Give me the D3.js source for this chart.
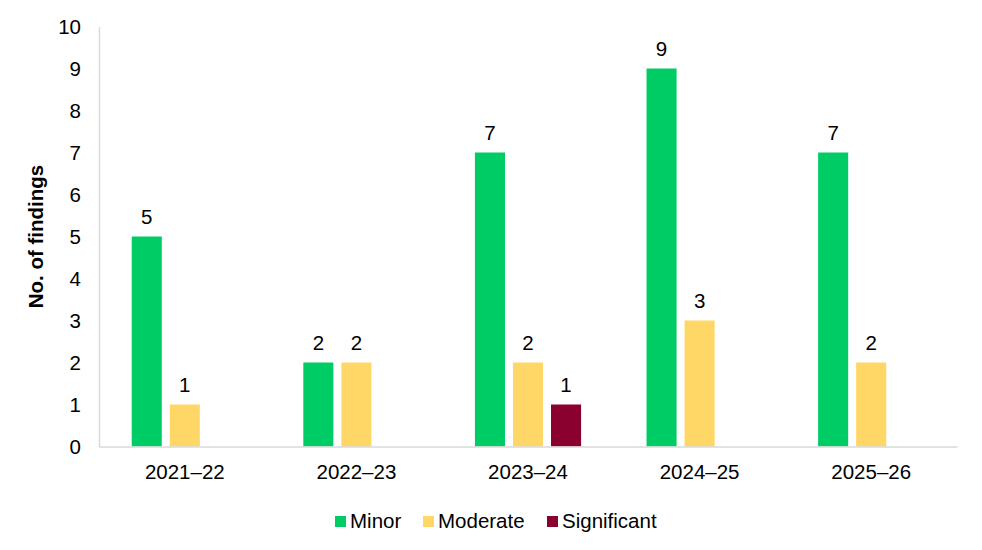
<!DOCTYPE html>
<html lang="en">
<head>
    <meta charset="UTF-8">
    <title>No. of findings by year</title>
    <script src="https://cdnjs.cloudflare.com/ajax/libs/d3/7.8.5/d3.min.js"></script>
    <style>
        body {
            margin: 0;
            background: #fff;
            font-family: Arial, "Liberation Sans", sans-serif;
        }
        .tick text, .value-label, .legend text {
            font-size: 20.5px;
            fill: #000;
        }
        .axis-title {
            font-size: 20.5px;
            font-weight: bold;
        }
    </style>
</head>
<body>
    <div id="chart"></div>
    <script>
        // chart data
        const years = ["2021–22", "2022–23", "2023–24", "2024–25", "2025–26"];
        const seriesNames = ["Minor", "Moderate", "Significant"];
        const minor = [5, 2, 7, 9, 7];
        const moderate = [1, 2, 2, 3, 2];
        const significant = [0, 0, 1, 0, 0];
        const yTicks = [0, 1, 2, 3, 4, 5, 6, 7, 8, 9, 10];
        const colors = ["#00CC66", "#FFD766", "#8A002E"];

        const seriesValues = [minor, moderate, significant];

        const width = 982, height = 550;
        const margin = {top: 26.5, right: 25, bottom: 103.5, left: 99};
        const innerW = width - margin.left - margin.right;
        const innerH = height - margin.top - margin.bottom;

        const svg = d3.select("#chart")
            .append("svg")
            .attr("width", width)
            .attr("height", height);

        const g = svg.append("g")
            .attr("transform", `translate(${margin.left},${margin.top})`);

        const x0 = d3.scaleBand()
            .domain(years)
            .range([0, innerW])
            .padding(0);

        const x1 = d3.scaleBand()
            .domain(seriesNames)
            .range([0, x0.bandwidth()])
            .paddingInner(0.21)
            .paddingOuter(0.86);

        const y = d3.scaleLinear()
            .domain([0, 10])
            .range([innerH, 0]);

        // bars, zero values are skipped like in the original
        const rows = years.map((yr, i) => ({
            year: yr,
            values: seriesNames.map((s, j) => ({series: s, value: seriesValues[j][i], color: colors[j]}))
                .filter(d => d.value > 0)
        }));

        const groups = g.selectAll(".group")
            .data(rows)
            .enter().append("g")
            .attr("class", "group")
            .attr("transform", d => `translate(${x0(d.year)},0)`);

        groups.selectAll("rect")
            .data(d => d.values)
            .enter().append("rect")
            .attr("x", d => x1(d.series))
            .attr("y", d => y(d.value))
            .attr("width", x1.bandwidth())
            .attr("height", d => innerH - y(d.value))
            .attr("fill", d => d.color);

        groups.selectAll(".value-label")
            .data(d => d.values)
            .enter().append("text")
            .attr("class", "value-label")
            .attr("x", d => x1(d.series) + x1.bandwidth() / 2)
            .attr("y", d => y(d.value) - 13)
            .attr("text-anchor", "middle")
            .text(d => d.value);

        // axes
        const yAxis = g.append("g")
            .call(d3.axisLeft(y).tickValues(yTicks).tickSize(0).tickPadding(18));
        yAxis.select(".domain").attr("stroke", "#d9d9d9").attr("stroke-width", 1.5);

        const xAxis = g.append("g")
            .attr("transform", `translate(0,${innerH})`)
            .call(d3.axisBottom(x0).tickSize(0).tickPadding(18));
        xAxis.select(".domain").attr("stroke", "#d9d9d9").attr("stroke-width", 1.5);

        g.selectAll(".tick text").attr("font-family", "Arial, 'Liberation Sans', sans-serif");

        g.append("text")
            .attr("class", "axis-title")
            .attr("transform", "rotate(-90)")
            .attr("x", -innerH / 2)
            .attr("y", -56)
            .attr("text-anchor", "middle")
            .text("No. of findings");

        // legend
        const legendX = [335, 423, 547];
        const legend = svg.append("g").attr("class", "legend");
        seriesNames.forEach((s, i) => {
            legend.append("rect")
                .attr("x", legendX[i])
                .attr("y", 516)
                .attr("width", 11)
                .attr("height", 11)
                .attr("fill", colors[i]);
            legend.append("text")
                .attr("x", legendX[i] + 15)
                .attr("y", 528)
                .text(s);
        });
    </script>
</body>
</html>
